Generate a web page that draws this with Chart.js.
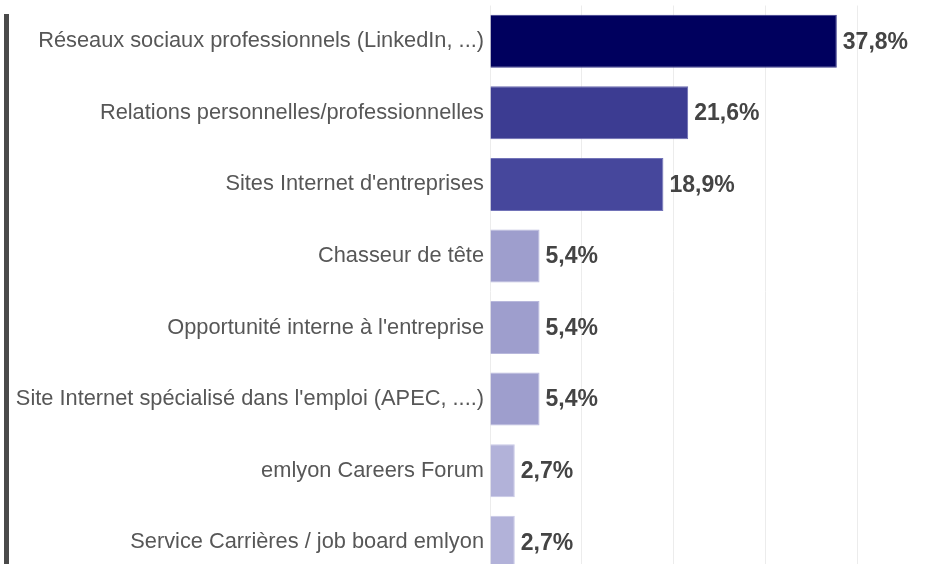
<!DOCTYPE html>
<html>
<head>
<meta charset="utf-8">
<script src="https://cdn.jsdelivr.net/npm/chart.js@4"></script>
<style>
    html, body { margin: 0; padding: 0; background: #fff; overflow: hidden; }
    #wrap { position: relative; width: 926px; height: 564px; overflow: hidden; }
    #barre { position: absolute; left: 4px; top: 14px; width: 5px; height: 560px; background: #4a4a4a; }
    #zone { position: absolute; left: 0; top: 0; width: 926px; height: 580px; }
</style>
</head>
<body>
<div id="wrap">
    <div id="barre"></div>
    <div id="zone"><canvas id="graphe"></canvas></div>
</div>
<script>
// categories et valeurs (en %)
const categories = [
    'Réseaux sociaux professionnels (LinkedIn, ...)',
    'Relations personnelles/professionnelles',
    "Sites Internet d'entreprises",
    'Chasseur de tête',
    "Opportunité interne à l'entreprise",
    "Site Internet spécialisé dans l'emploi (APEC, ....)",
    'emlyon Careers Forum',
    'Service Carrières / job board emlyon'
];
const valeurs = [37.8, 21.6, 18.9, 5.4, 5.4, 5.4, 2.7, 2.7];
const couleurs = ['#00005e', '#3c3c92', '#46479c', '#9e9ecd', '#9e9ecd', '#9e9ecd', '#b2b2d9', '#b2b2d9'];
const bordures = ['#3a3a8a', '#6a6ab0', '#7273b8', '#b8b8dc', '#b8b8dc', '#b8b8dc', '#c8c8e6', '#c8c8e6'];

// etiquettes au bout des barres
const etiquettes = {
    id: 'etiquettes',
    afterDatasetsDraw(chart) {
        const ctx = chart.ctx;
        const meta = chart.getDatasetMeta(0);
        ctx.save();
        ctx.font = 'bold 23px "Liberation Sans", Arial, sans-serif';
        ctx.fillStyle = '#444444';
        ctx.textAlign = 'left';
        ctx.textBaseline = 'middle';
        meta.data.forEach(function (bar, i) {
            const txt = valeurs[i].toFixed(1).replace('.', ',') + '%';
            ctx.fillText(txt, bar.x + 6, bar.y + 1);
        });
        ctx.restore();
    }
};

const ctx = document.getElementById('graphe').getContext('2d');
new Chart(ctx, {
    type: 'bar',
    data: {
        labels: categories,
        datasets: [{
            data: valeurs,
            backgroundColor: couleurs,
            borderColor: bordures,
            borderWidth: 1,
            barPercentage: 0.74,
            categoryPercentage: 1
        }]
    },
    options: {
        indexAxis: 'y',
        responsive: true,
        maintainAspectRatio: false,
        animation: false,
        layout: {
            padding: { left: 0, right: 69, top: 5.5, bottom: 2 }
        },
        plugins: {
            legend: { display: false },
            tooltip: { enabled: false }
        },
        scales: {
            x: {
                min: 0,
                max: 40,
                ticks: { display: false, stepSize: 10 },
                grid: { color: '#ececec', drawTicks: false },
                border: { display: false }
            },
            y: {
                afterFit: function (scale) {
                    scale.width = 490;
                    scale.paddingTop = 0;
                    scale.paddingBottom = 0;
                },
                grid: { display: false, drawTicks: false },
                border: { display: false },
                ticks: {
                    color: '#575757',
                    padding: 6,
                    font: { family: '"Liberation Sans", Arial, sans-serif', size: 21.8 }
                }
            }
        }
    },
    plugins: [etiquettes]
});
</script>
</body>
</html>
